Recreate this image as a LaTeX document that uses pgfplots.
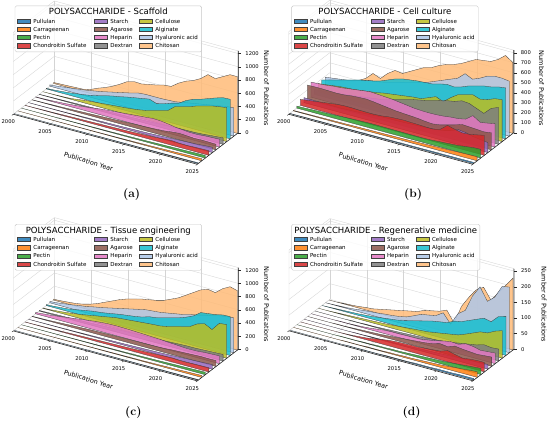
\documentclass[border=0pt]{standalone}
\usepackage{pgfplots}
\pgfplotsset{compat=1.18}
\usepackage{pgfplotstable}
\usepackage{fontspec}
\newfontfamily\dv{DejaVu Sans}
\newcommand{\fs}[1]{\fontsize{#1}{#1}\selectfont}

\definecolor{cPul}{HTML}{1F77B4}
\definecolor{cCar}{HTML}{FF7F0E}
\definecolor{cPec}{HTML}{2CA02C}
\definecolor{cCho}{HTML}{D62728}
\definecolor{cSta}{HTML}{9467BD}
\definecolor{cAga}{HTML}{8C564B}
\definecolor{cHep}{HTML}{E377C2}
\definecolor{cDex}{HTML}{7F7F7F}
\definecolor{cCel}{HTML}{BCBD22}
\definecolor{cAlg}{HTML}{17BECF}
\definecolor{cHya}{HTML}{AEC7E8}
\definecolor{cChi}{HTML}{FFBB78}

% columns: s0 Pullulan, s1 Carrageenan, s2 Pectin, s3 Chondroitin Sulfate, s4 Starch, s5 Agarose,
% s6 Heparin, s7 Dextran, s8 Cellulose, s9 Alginate, s10 Hyaluronic acid, s11 Chitosan; t = year-2000
% (first and last two rows close each polygon at zero)
\pgfplotstableread{
t s0 s1 s2 s3 s4 s5 s6 s7 s8 s9 s10 s11
0 0 0 0 0 0 0 0 0 0 0 0 0
0 0 0 0 2 1 3 5 3 0 10 20 15
1 0 0 1 3 2 5 8 5 2 15 30 20
2 0 1 1 5 3 7 12 7 5 25 45 25
3 1 1 2 7 4 10 18 9 8 35 60 30
4 1 2 2 9 5 13 25 11 15 50 75 35
5 1 2 3 12 6 16 35 13 30 65 90 60
6 2 3 4 15 8 20 45 15 45 85 110 110
7 2 3 5 18 10 24 60 18 55 110 130 150
8 2 4 6 20 12 28 75 20 65 140 155 200
9 3 5 7 22 14 32 90 23 75 165 180 260
10 3 5 8 25 16 36 100 26 85 185 205 330
11 3 6 9 27 18 40 110 29 95 210 230 360
12 4 7 10 30 20 45 120 32 105 230 260 355
13 4 8 12 33 22 50 130 35 120 250 270 380
14 5 9 13 35 25 55 140 38 140 270 270 400
15 5 10 15 40 28 58 150 42 170 232 270 430
16 6 12 17 45 30 62 160 46 200 260 275 440
17 6 14 19 50 35 68 155 50 230 300 280 520
18 7 16 22 55 40 75 140 55 320 330 300 580
19 8 18 25 65 45 90 120 60 350 400 320 620
20 8 20 27 70 50 100 110 62 380 450 340 680
21 9 22 30 62 55 95 100 64 420 480 360 770
22 10 25 32 60 60 85 100 70 450 520 380 740
23 10 28 35 65 65 90 110 80 480 560 400 800
24 11 30 38 68 75 88 115 90 500 595 420 860
25 12 32 40 70 80 85 120 100 515 600 430 860
25 0 0 0 0 0 0 0 0 0 0 0 0
0 0 0 0 0 0 0 0 0 0 0 0 0
}\tabA

\pgfplotstableread{
t s0 s1 s2 s3 s4 s5 s6 s7 s8 s9 s10 s11
0 0 0 0 0 0 0 0 0 0 0 0 0
0 3 5 20 60 50 148 150 50 80 90 90 40
1 3 6 22 70 50 150 155 55 90 110 100 50
2 4 7 25 80 48 150 160 60 100 130 110 60
3 4 8 28 90 46 148 170 70 110 150 120 80
4 5 9 30 100 45 146 175 80 115 170 140 110
5 5 10 33 110 45 150 185 90 120 190 160 150
6 5 11 36 115 48 160 195 100 130 205 175 220
7 6 12 40 115 50 165 205 110 140 220 185 190
8 6 13 43 112 55 168 215 120 150 240 200 260
9 6 14 45 110 60 160 210 130 165 270 220 310
10 7 15 47 110 65 150 205 150 175 300 240 300
11 7 16 47 115 70 140 200 170 185 320 260 340
12 7 17 46 125 70 130 190 190 195 330 280 380
13 8 18 45 130 72 125 180 210 205 340 300 420
14 8 19 45 133 75 120 170 225 210 345 320 440
15 8 20 44 130 78 115 165 240 240 350 350 480
16 9 22 44 128 80 105 163 260 270 370 380 510
17 9 24 44 125 85 100 165 280 240 386 410 530
18 9 26 45 123 90 110 170 297 300 380 440 560
19 10 28 50 140 100 130 180 310 350 400 505 600
20 10 30 55 200 120 150 185 336 370 430 470 640
21 10 32 60 180 150 174 200 330 390 450 500 650
22 11 35 65 165 140 170 255 300 365 470 540 660
23 11 38 75 170 120 165 207 270 380 480 560 700
24 12 40 85 185 110 160 220 340 410 500 560 760
25 12 42 88 200 100 170 235 370 420 510 550 710
25 0 0 0 0 0 0 0 0 0 0 0 0
0 0 0 0 0 0 0 0 0 0 0 0 0
}\tabB

\pgfplotstableread{
t s0 s1 s2 s3 s4 s5 s6 s7 s8 s9 s10 s11
0 0 0 0 0 0 0 0 0 0 0 0 0
0 0 0 0 2 1 5 20 10 5 15 20 15
1 0 0 1 3 2 8 30 12 10 20 30 20
2 0 1 1 5 3 10 40 15 20 30 45 30
3 1 1 2 7 4 15 55 18 30 40 60 40
4 1 2 2 9 5 20 70 20 45 60 80 60
5 1 2 3 11 6 25 85 25 60 80 95 90
6 1 3 4 14 7 30 100 28 80 100 120 130
7 2 3 5 17 9 35 115 30 100 115 140 180
8 2 4 6 20 11 40 130 35 120 130 165 230
9 2 4 7 22 13 42 140 40 140 150 190 280
10 3 5 8 25 15 45 148 42 160 170 215 320
11 3 6 9 28 17 48 150 45 170 185 240 350
12 3 7 10 30 19 50 148 48 180 200 265 380
13 4 8 11 33 21 52 145 50 190 220 290 400
14 4 9 12 36 24 54 140 55 200 255 300 420
15 4 10 14 40 27 55 135 60 210 270 310 450
16 5 11 16 44 30 56 130 62 217 300 330 500
17 5 12 18 48 33 58 125 65 240 330 350 550
18 6 14 20 52 36 62 115 70 270 360 370 620
19 6 16 22 58 40 70 110 75 300 400 400 690
20 7 18 25 62 45 75 100 80 330 450 420 760
21 7 20 28 55 50 80 97 80 400 530 450 800
22 8 22 30 55 55 85 100 85 433 545 470 780
23 8 25 33 60 60 90 110 90 375 560 500 870
24 9 28 36 62 65 88 115 95 500 585 520 930
25 10 30 38 65 70 90 120 100 510 590 530 900
25 0 0 0 0 0 0 0 0 0 0 0 0
0 0 0 0 0 0 0 0 0 0 0 0 0
}\tabC

\pgfplotstableread{
t s0 s1 s2 s3 s4 s5 s6 s7 s8 s9 s10 s11
0 0 0 0 0 0 0 0 0 0 0 0 0
0 0 0 0 0 0 0 0 0 0 0 0 0
1 0 0 0 0 0 0 0 0 0 1 1 0
2 0 0 0 0 0 0 0 0 1 2 2 2
3 0 0 0 0 0 0 0 0 2 3 3 3
4 0 0 0 0 0 1 1 0 3 4 5 5
5 0 0 0 0 0 1 1 1 4 5 8 8
6 0 0 1 1 0 2 2 1 5 7 10 10
7 0 1 1 2 1 3 3 2 6 9 12 15
8 1 1 1 4 1 4 5 2 7 12 15 20
9 1 1 2 6 2 5 8 3 8 15 17 25
10 1 2 2 10 2 6 11 4 10 18 20 30
11 1 2 3 14 3 8 12 5 12 22 25 35
12 1 2 3 18 3 10 12 6 14 28 35 40
13 2 3 4 20 4 12 13 7 16 34 46 50
14 2 3 4 21 4 14 13 8 18 40 50 55
15 2 4 5 22 5 16 14 10 20 46 55 60
16 2 4 6 22 6 18 18 12 24 50 70 70
17 3 5 7 24 7 22 22 14 28 54 40 35
18 3 6 8 26 8 28 28 16 32 65 80 95
19 3 7 9 28 9 25 32 20 36 70 97 130
20 4 8 10 36 10 33 30 24 45 80 150 160
21 4 10 12 30 11 30 38 28 55 90 185 175
22 4 12 14 25 12 28 36 32 65 100 145 140
23 5 14 16 28 13 26 30 39 68 95 165 170
24 5 16 18 30 14 28 32 36 80 118 205 200
25 5 18 20 30 15 30 34 38 88 125 210 230
25 0 0 0 0 0 0 0 0 0 0 0 0
0 0 0 0 0 0 0 0 0 0 0 0 0
}\tabD

\tikzset{
  gl/.style={draw=black!17, line width=0.35pt},
  axl/.style={draw=black!85, line width=0.6pt},
  xtl/.style={font=\dv\fs{5.2}, xshift=-5pt, yshift=-7.5pt, inner sep=0pt},
  ztl/.style={font=\dv\fs{5.2}, anchor=west, xshift=7pt, inner sep=0pt},
}
\pgfplotsset{
  ser/.style={draw=black!75, line width=0.3pt, fill=#1, fill opacity=0.85, mark=none, solid},
  panel/.style={anchor=origin, x={(7.36pt,-2pt)}, y={(3.57pt,2.74pt)},
    xmin=0, xmax=25, ymin=-0.25, ymax=11.25, zmin=0, hide axis, clip=false},
}

\newcommand{\plotall}[1]{%
  \addplot3[ser=cChi] table[x=t, y expr=11, z=s11] {#1};
  \addplot3[ser=cHya] table[x=t, y expr=10, z=s10] {#1};
  \addplot3[ser=cAlg] table[x=t, y expr=9, z=s9] {#1};
  \addplot3[ser=cCel] table[x=t, y expr=8, z=s8] {#1};
  \addplot3[ser=cDex] table[x=t, y expr=7, z=s7] {#1};
  \addplot3[ser=cHep] table[x=t, y expr=6, z=s6] {#1};
  \addplot3[ser=cAga] table[x=t, y expr=5, z=s5] {#1};
  \addplot3[ser=cSta] table[x=t, y expr=4, z=s4] {#1};
  \addplot3[ser=cCho] table[x=t, y expr=3, z=s3] {#1};
  \addplot3[ser=cPec] table[x=t, y expr=2, z=s2] {#1};
  \addplot3[ser=cCar] table[x=t, y expr=1, z=s1] {#1};
  \addplot3[ser=cPul] table[x=t, y expr=0, z=s0] {#1};
}

\newcommand{\backgrid}[2]{%
  \pgfplotsinvokeforeach{0,5,...,25}{%
    \draw[gl] (axis cs:##1,11.25,0) -- (axis cs:##1,11.25,#1);
    \draw[gl] (axis cs:##1,-0.25,0) -- (axis cs:##1,11.25,0);
  }%
  \pgfplotsinvokeforeach{#2}{%
    \draw[gl] (axis cs:0,-0.25,##1) -- (axis cs:0,11.25,##1) -- (axis cs:25,11.25,##1);
  }%
  \draw[gl] (axis cs:0,-0.25,0) -- (axis cs:0,-0.25,#1) -- (axis cs:0,11.25,#1) -- (axis cs:25,11.25,#1);
}

\newcommand{\frontaxes}[2]{%
  \draw[axl] (axis cs:0,-0.25,0) -- (axis cs:25,-0.25,0) -- (axis cs:25,11.25,0) -- (axis cs:25,11.25,#1);
  \pgfplotsinvokeforeach{0,5,...,25}{%
    \draw[axl, line width=0.4pt] (axis cs:##1,-0.25,0) -- (axis cs:##1,-0.65,0);
    \node[xtl] at (axis cs:##1,-0.25,0) {\pgfmathtruncatemacro\yr{2000+##1}\yr};
  }%
  \pgfplotsinvokeforeach{#2}{%
    \draw[axl, line width=0.4pt] (axis cs:25,11.25,##1) -- ++(2.8pt,0pt);
    \node[ztl] at (axis cs:25,11.25,##1) {##1};
  }%
}

\newcommand{\legent}[4]{%
  \draw[draw=black!75, line width=0.3pt, fill=#3, fill opacity=0.85] (#1,#2-2.1) rectangle ++(13.3,4.2);
  \node[anchor=base west, inner sep=0pt, font=\dv\fs{5.5}] at (#1+16,#2+2) {#4};
}

\newcommand{\polyleg}[4]{%
  \begin{scope}[shift={(#1,#2)}]
    \draw[draw=black!22, fill=white, fill opacity=0.8, rounded corners=1.5pt, line width=0.4pt] (0,0) rectangle (#3,46);
    \node[anchor=base, inner sep=0pt, font=\dv\fs{8.5}] at (#3/2,9) {#4};
    \legent{2.3}{15.2}{cPul}{Pullulan}
    \legent{2.3}{23.4}{cCar}{Carrageenan}
    \legent{2.3}{31.6}{cPec}{Pectin}
    \legent{2.3}{39.8}{cCho}{Chondroitin Sulfate}
    \legent{79.3}{15.2}{cSta}{Starch}
    \legent{79.3}{23.4}{cAga}{Agarose}
    \legent{79.3}{31.6}{cHep}{Heparin}
    \legent{79.3}{39.8}{cDex}{Dextran}
    \legent{124.3}{15.2}{cCel}{Cellulose}
    \legent{124.3}{23.4}{cAlg}{Alginate}
    \legent{124.3}{31.6}{cHya}{Hyaluronic acid}
    \legent{124.3}{39.8}{cChi}{Chitosan}
  \end{scope}
}

\begin{document}
\begin{tikzpicture}
\begin{scope}[x=1pt,y=-1pt]
  \useasboundingbox (0,0) rectangle (550,419);
\end{scope}

% (a) Scaffold
\begin{axis}[panel, at={(14.2pt,-111pt)}, z={(0pt,0.066pt)}, zmax=1240]
  \backgrid{1240}{0,200,...,1200}
  \plotall{\tabA}
  \frontaxes{1240}{0,200,...,1200}
\end{axis}

% (b) Cell culture
\begin{axis}[panel, at={(289.7pt,-111pt)}, z={(0pt,0.1pt)}, zmax=826]
  \backgrid{826}{0,100,...,800}
  \plotall{\tabB}
  \frontaxes{826}{0,100,...,800}
\end{axis}

% (c) Tissue engineering
\begin{axis}[panel, at={(14.2pt,-327.7pt)}, z={(0pt,0.066pt)}, zmax=1240]
  \backgrid{1240}{0,200,...,1200}
  \plotall{\tabC}
  \frontaxes{1240}{0,200,...,1200}
\end{axis}

% (d) Regenerative medicine
\begin{axis}[panel, at={(289.9pt,-327.6pt)}, z={(0pt,0.313pt)}, zmax=258]
  \backgrid{258}{0,50,...,250}
  \plotall{\tabD}
  \frontaxes{258}{0,50,...,250}
\end{axis}

\begin{scope}[x=1pt,y=-1pt]
  \polyleg{15}{3.3}{186.7}{POLYSACCHARIDE - Scaffold}
  \polyleg{291.7}{3.3}{186.7}{POLYSACCHARIDE - Cell culture}
  \polyleg{15}{221.7}{186.7}{POLYSACCHARIDE - Tissue engineering}
  \polyleg{291.7}{221.7}{188.3}{POLYSACCHARIDE - Regenerative medicine}

  \node[rotate=-17, font=\dv\fs{6.4}] at (88.5,159) {Publication Year};
  \node[rotate=-17, font=\dv\fs{6.4}] at (363.5,159.5) {Publication Year};
  \node[rotate=-17, font=\dv\fs{6.4}] at (88.5,377) {Publication Year};
  \node[rotate=-17, font=\dv\fs{6.4}] at (363.7,377.5) {Publication Year};

  \node[rotate=-90, font=\dv\fs{6.5}] at (266.7,86) {Number of Publications};
  \node[rotate=-90, font=\dv\fs{6.5}] at (541.7,86) {Number of Publications};
  \node[rotate=-90, font=\dv\fs{6.5}] at (266.7,302) {Number of Publications};
  \node[rotate=-90, font=\dv\fs{6.5}] at (544.3,302) {Number of Publications};

  \node[font=\fs{12}\bfseries] at (131.7,191.7) {(a)};
  \node[font=\fs{12}\bfseries] at (413.3,191.7) {(b)};
  \node[font=\fs{12}\bfseries] at (133.3,410) {(c)};
  \node[font=\fs{12}\bfseries] at (411.7,410) {(d)};
\end{scope}
\end{tikzpicture}
\end{document}
